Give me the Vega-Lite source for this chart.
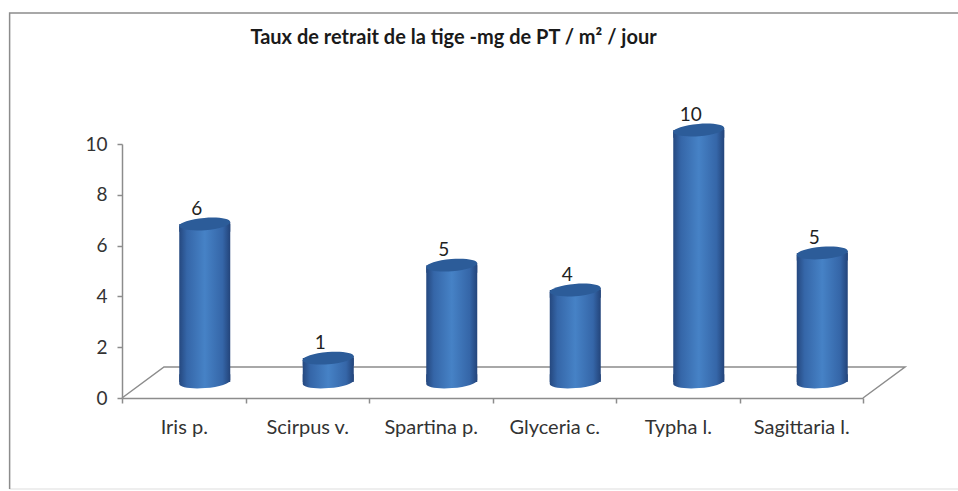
{
"$schema":"https://vega.github.io/schema/vega-lite/v6.json",
"width":741,"height":254,
"autosize":{"type":"none"},
"padding":{"left":122,"top":144,"right":95,"bottom":93},
"background":"white",
"config":{"view":{"stroke":null},"font":"Lato"},
"title":{"text":"Taux de retrait de la tige -mg de PT / m² / jour","font":"Lato","fontSize":20,"fontWeight":"bold","color":"#1a1a1a","anchor":"middle","dx":-39,"offset":-38},
"datasets":{
"especes":[
{"espece":"Iris p.","taux":6.22},
{"espece":"Scirpus v.","taux":0.94},
{"espece":"Spartina p.","taux":4.6},
{"espece":"Glyceria c.","taux":3.62},
{"espece":"Typha l.","taux":9.92},
{"espece":"Sagittaria l.","taux":5.08}],
"plancher":[
{"px":0,"py":0,"o":1},{"px":0.34,"py":1.22,"o":2},{"px":6.34,"py":1.22,"o":3},{"px":6,"py":0,"o":4}],
"cadre":[
{"px":-0.91,"py":-3.58,"o":1},{"px":-0.91,"py":15.16,"o":2},{"px":6.77,"py":15.16,"o":3}],
"cadreBas":[
{"px":-0.91,"py":-3.58,"o":1},{"px":6.77,"py":-3.58,"o":2}]
},
"layer":[
{"data":{"name":"cadreBas"},
 "mark":{"type":"line","color":"#e8e8e8","strokeWidth":1.5,"clip":false},
 "encoding":{"x":{"field":"px","type":"quantitative","scale":{"domain":[0,6],"nice":false,"zero":false},"axis":null},
  "y":{"field":"py","type":"quantitative","scale":{"domain":[0,10],"nice":false},"axis":{"title":null,"values":[0,2,4,6,8,10],"labelFont":"Lato","labelFontSize":19,"labelColor":"#333333","labelPadding":10,"tickSize":5,"tickColor":"#8c8c8c","domainColor":"#8c8c8c","domainWidth":1.5,"tickWidth":1.5,"grid":false}},
  "order":{"field":"o"}}},
{"data":{"name":"cadre"},
 "mark":{"type":"line","color":"#8c8c8c","strokeWidth":1.5,"clip":false},
 "encoding":{"x":{"field":"px","type":"quantitative","scale":{"domain":[0,6],"nice":false,"zero":false},"axis":null},
  "y":{"field":"py","type":"quantitative","scale":{"domain":[0,10],"nice":false},"axis":{"title":null,"values":[0,2,4,6,8,10],"labelFont":"Lato","labelFontSize":19,"labelColor":"#333333","labelPadding":10,"tickSize":5,"tickColor":"#8c8c8c","domainColor":"#8c8c8c","domainWidth":1.5,"tickWidth":1.5,"grid":false}},
  "order":{"field":"o"}}},
{"data":{"name":"plancher"},
 "mark":{"type":"line","color":"#8c8c8c","strokeWidth":1.5,"clip":false},
 "encoding":{"x":{"field":"px","type":"quantitative","scale":{"domain":[0,6],"nice":false,"zero":false},"axis":null},
  "y":{"field":"py","type":"quantitative","scale":{"domain":[0,10],"nice":false},"axis":{"title":null,"values":[0,2,4,6,8,10],"labelFont":"Lato","labelFontSize":19,"labelColor":"#333333","labelPadding":10,"tickSize":5,"tickColor":"#8c8c8c","domainColor":"#8c8c8c","domainWidth":1.5,"tickWidth":1.5,"grid":false}},
  "order":{"field":"o"}}},
{"data":{"name":"especes"},
 "encoding":{
  "x":{"field":"espece","type":"nominal","sort":null,"scale":{"paddingInner":0,"paddingOuter":0},
   "axis":{"title":null,"labelAngle":0,"labelFont":"Lato","labelFontSize":20,"labelColor":"#333333","labelPadding":14,"tickBand":"extent","tickSize":5,"tickColor":"#8c8c8c","domainColor":"#8c8c8c","domainWidth":1.5,"tickWidth":1.5,"grid":false}},
  "y":{"field":"taux","type":"quantitative","scale":{"domain":[0,10],"nice":false},
   "axis":{"title":null,"values":[0,2,4,6,8,10],"labelFont":"Lato","labelFontSize":19,"labelColor":"#333333","labelPadding":10,"tickSize":5,"tickColor":"#8c8c8c","domainColor":"#8c8c8c","domainWidth":1.5,"tickWidth":1.5,"grid":false}}
 },
 "layer":[
  {"mark":{"type":"bar","width":51,"xOffset":21,"yOffset":-16,"color":{"gradient":"linear","x1":0,"x2":1,"y1":0,"y2":0,"stops":[{"offset":0,"color":"#25487f"},{"offset":0.15,"color":"#3566a8"},{"offset":0.5,"color":"#4682c6"},{"offset":0.85,"color":"#3566a8"},{"offset":1,"color":"#23447a"}]}}},
  {"mark":{"type":"point","shape":"M-1,-0.3 L-1,0.08 A1,0.24 -4.6 1 0 1,-0.08 L1,-0.3 Z","size":2601,"filled":true,"opacity":1,"xOffset":21,"yOffset":-16,"color":{"gradient":"linear","x1":0,"x2":1,"y1":0,"y2":0,"stops":[{"offset":0,"color":"#25487f"},{"offset":0.15,"color":"#3566a8"},{"offset":0.5,"color":"#4682c6"},{"offset":0.85,"color":"#3566a8"},{"offset":1,"color":"#23447a"}]}},
   "encoding":{"y":{"datum":0}}},
  {"mark":{"type":"point","shape":"M-1,0.08 L-1,0.3 L1,0.3 L1,-0.08 Z","size":2601,"filled":true,"opacity":1,"xOffset":21,"yOffset":-16,"color":{"gradient":"linear","x1":0,"x2":1,"y1":0,"y2":0,"stops":[{"offset":0,"color":"#25487f"},{"offset":0.15,"color":"#3566a8"},{"offset":0.5,"color":"#4682c6"},{"offset":0.85,"color":"#3566a8"},{"offset":1,"color":"#23447a"}]}}},
  {"mark":{"type":"point","shape":"M-1,0.08 A1,0.24 -4.6 1 1 1,-0.08 A1,0.24 -4.6 1 1 -1,0.08 Z","size":2601,"filled":true,"opacity":1,"color":"#2c5c99","xOffset":21,"yOffset":-16}},
  {"mark":{"type":"text","font":"Lato","fontSize":19,"color":"#222222","baseline":"middle","xOffset":13,"yOffset":-31},
   "encoding":{"text":{"field":"taux","type":"quantitative","format":".0f"}}}
 ]
}
],
"resolve":{"scale":{"x":"independent"}}
}
